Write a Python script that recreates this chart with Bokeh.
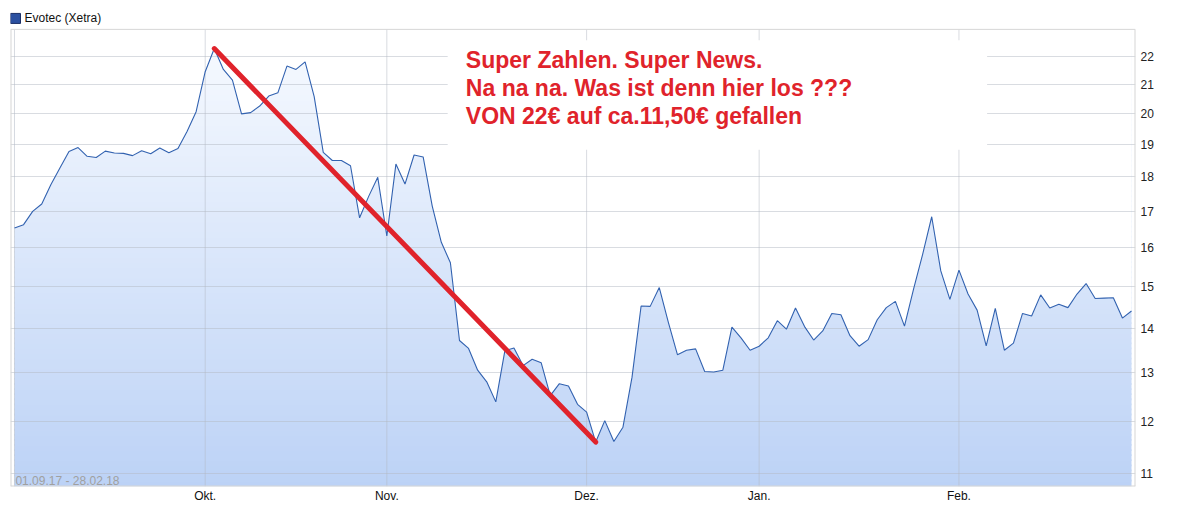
import numpy as np
from bokeh.plotting import figure
from bokeh.models import Range1d, FixedTicker
from bokeh.core.properties import value
from bokeh.embed import file_html
from bokeh.resources import INLINE

# ---- data ----
series_name = "Evotec (Xetra)"
period_label = "01.09.17 - 28.02.18"
prices = [16.54, 16.63, 17.00, 17.21, 17.77, 18.27, 18.78, 18.90, 18.63, 18.59,
          18.79, 18.73, 18.72, 18.65, 18.80, 18.71, 18.89, 18.74, 18.87, 19.41,
          20.06, 21.44, 22.28, 21.52, 21.14, 19.99, 20.03, 20.25, 20.59, 20.70,
          21.64, 21.52, 21.79, 20.57, 18.75, 18.50, 18.50, 18.34, 16.82, 17.43,
          17.99, 16.32, 18.39, 17.79, 18.67, 18.61, 17.15, 16.15, 15.61, 13.72,
          13.54, 13.06, 12.81, 12.39, 13.49, 13.55, 13.16, 13.30, 13.22, 12.52,
          12.77, 12.72, 12.34, 12.18, 11.59, 12.01, 11.60, 11.88, 12.91, 14.53,
          14.52, 14.98, 14.14, 13.40, 13.50, 13.53, 13.03, 13.02, 13.06, 14.03,
          13.78, 13.50, 13.59, 13.78, 14.18, 13.98, 14.48, 14.04, 13.73, 13.94,
          14.35, 14.32, 13.83, 13.59, 13.74, 14.20, 14.49, 14.64, 14.05, 14.94,
          15.83, 16.85, 15.40, 14.69, 15.42, 14.82, 14.43, 13.60, 14.47, 13.50,
          13.66, 14.35, 14.29, 14.80, 14.48, 14.57, 14.49, 14.82, 15.08, 14.71,
          14.72, 14.73, 14.24, 14.41]
month_idx = [0, 21, 41, 63, 82, 104]
month_labels = ["", "Okt.", "Nov.", "Dez.", "Jan.", "Feb."]
y_ticks = [11, 12, 13, 14, 15, 16, 17, 18, 19, 20, 21, 22]
note_lines = ["Super Zahlen. Super News.",
              "Na na na. Was ist denn hier los ???",
              "VON 22\u20ac auf ca.11,50\u20ac gefallen"]

FONT = "Liberation Sans"
idx = np.arange(len(prices))
last = len(prices) - 1
y_lo, y_hi = 10.766, 23.0          # value range of the chart box
x_lo, x_hi = -0.44, last + 0.44

W, H = 1194, 505
B_TOP, B_BOT, B_LEFT, B_RIGHT = 0, 17, 10, 59
BOX_TOP_PX = 29                     # chart box starts 29px below canvas top
box_h = H - B_BOT - BOX_TOP_PX
k = np.log(y_hi / y_lo) / box_h     # log-units per pixel
y_top = y_hi * np.exp(BOX_TOP_PX * k)   # value at canvas top (header strip)

def px_up(v, px):
    """value that lies px pixels above v on the log scale"""
    return v * np.exp(px * k)

p = figure(width=W, height=H, output_backend="svg", toolbar_location=None,
           y_axis_type="log", y_axis_location="right",
           x_range=Range1d(x_lo, x_hi), y_range=Range1d(y_lo, y_top),
           min_border_left=B_LEFT, min_border_right=B_RIGHT, min_border_top=B_TOP,
           min_border_bottom=B_BOT)
p.background_fill_color = "white"
p.border_fill_color = "white"
p.outline_line_color = None
p.xgrid.visible = False
p.ygrid.visible = False

# gradient area under the price line
n = 90
edges = np.exp(np.linspace(np.log(y_lo), np.log(y_hi), n + 1))
top_c = np.array([248, 251, 255])
bot_c = np.array([188, 210, 246])
tt = (np.arange(n) + 0.5) / n
cols = ["#%02x%02x%02x" % tuple(int(round(v)) for v in (bot_c + (top_c - bot_c) * t)) for t in tt]
p.quad(left=0, right=last, bottom=edges[:-1], top=np.minimum(edges[1:] * 1.003, y_hi),
       fill_color=cols, line_color=None)
p.varea(x=idx, y1=prices, y2=y_hi, fill_color="white")

# grid lines
GRID = "#b4b9c3"
p.hspan(y=y_ticks, line_color=GRID, line_alpha=0.5, line_width=1)
p.segment(x0=month_idx, x1=month_idx, y0=y_lo, y1=y_hi,
          line_color=GRID, line_alpha=0.5, line_width=1)

# chart box border
BORDER = "#d6d6d6"
p.segment(x0=[x_lo, x_hi], x1=[x_lo, x_hi], y0=[y_lo, y_lo], y1=[y_hi, y_hi],
          line_color=BORDER, line_width=2)
p.hspan(y=[y_lo], line_color=BORDER, line_width=2)
p.segment(x0=[x_lo], x1=[x_hi], y0=[y_hi], y1=[y_hi], line_color=BORDER, line_width=1)

# price line
p.line(idx, prices, line_color="#3262b0", line_width=1.1)

# red trend line from peak to trough
i_max = int(np.argmax(prices))
i_min = i_max + int(np.argmin(prices[i_max:]))
p.line([i_max, i_min], [prices[i_max], prices[i_min]], line_color="#e0232b",
       line_width=5, line_cap="round")

# annotation box with text
p.quad(left=[47.7], right=[107.1], bottom=[18.83], top=[22.59],
       fill_color="white", line_color=None)
p.text(x=[49.7] * 3, y=[21.87, 20.88, 19.93], text=note_lines,
       text_font=value(FONT), text_font_style="bold", text_font_size="23px",
       text_color="#e0232b", text_baseline="alphabetic", text_align="left")

# period label
p.text(x=[0.1], y=[10.87], text=[period_label], text_font=value(FONT),
       text_font_size="12px", text_color="#a0a0a0", text_baseline="alphabetic")

# header legend: small square + series name (in the strip above the chart box)
leg_y = px_up(y_hi, 11)
p.scatter(x=[0.11], y=[leg_y], marker="square", size=10,
          fill_color="#2b50a0", line_color="#1c2f66", line_width=1)
p.text(x=[1.1], y=[leg_y], text=[series_name], text_font=value(FONT),
       text_font_size="12px", text_color="#111111", text_baseline="middle",
       text_align="left")

# axes
p.xaxis.ticker = FixedTicker(ticks=month_idx)
p.xaxis.major_label_overrides = {i: l for i, l in zip(month_idx, month_labels)}
p.xaxis.axis_line_color = None
p.xaxis.major_tick_line_color = None
p.xaxis.minor_tick_line_color = None
p.xaxis.major_tick_in = 0
p.xaxis.major_tick_out = 0
p.xaxis.major_label_standoff = 2
p.xaxis.major_label_text_font = FONT
p.xaxis.major_label_text_font_size = "12px"
p.xaxis.major_label_text_color = "#111111"

p.yaxis.ticker = FixedTicker(ticks=y_ticks)
p.yaxis.major_label_overrides = {t: str(t) for t in y_ticks}
p.yaxis.axis_line_color = None
p.yaxis.major_tick_line_color = None
p.yaxis.minor_tick_line_color = None
p.yaxis.major_tick_in = 0
p.yaxis.major_tick_out = 0
p.yaxis.major_label_standoff = 5
p.yaxis.major_label_text_font = FONT
p.yaxis.major_label_text_font_size = "12px"
p.yaxis.major_label_text_color = "#222222"

open("out.html", "w").write(file_html(p, INLINE))
